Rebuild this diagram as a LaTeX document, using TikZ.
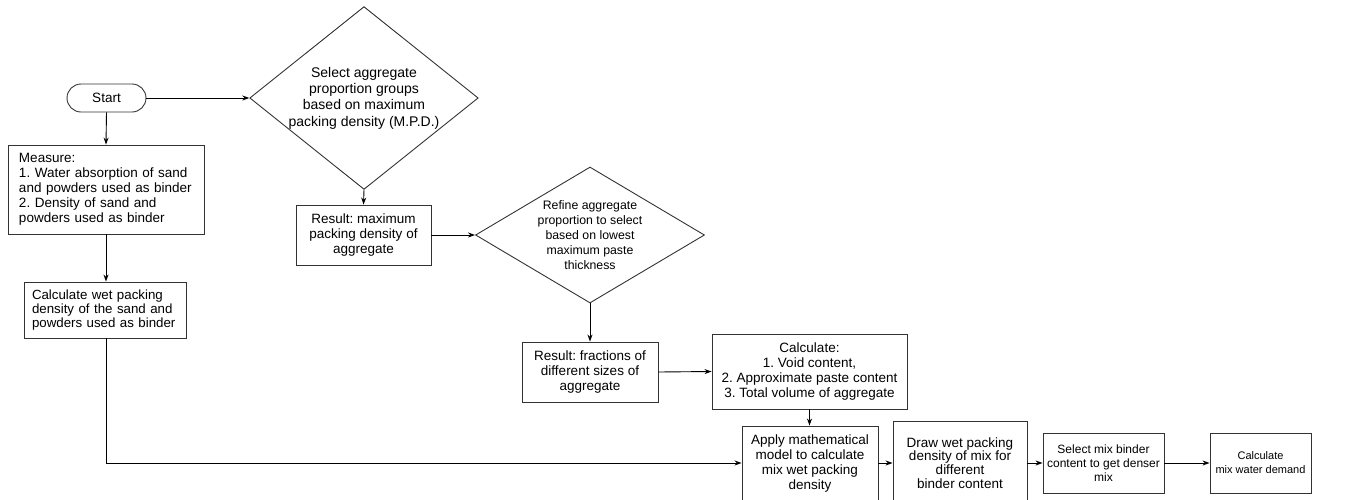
\documentclass[tikz,border=0pt]{standalone}
\usepackage{fontspec}
\setmainfont{Liberation Sans}
\usetikzlibrary{shapes.geometric,arrows.meta}
\frenchspacing
\begin{document}
\begin{tikzpicture}[x=1pt,y=-1pt,
    box/.style={rectangle,draw=black!80,line width=0.9pt,inner sep=0pt,align=center,
      font=\fontsize{13.5}{15}\selectfont},
    decision/.style={diamond,draw=black!80,line width=0.9pt,inner sep=0pt,align=center,
      font=\fontsize{13.5}{15}\selectfont},
    flow/.style={line width=0.9pt,-{Stealth[length=7pt,width=5pt]}}]
   \useasboundingbox (0,0) rectangle (1352,499);
   \clip (0,0) rectangle (1352,499);
   \node[box,rounded corners=14pt,minimum width=79,minimum height=28] (start) at (106.5,98) {Start};
   \node[decision,aspect=1.25,minimum width=228,minimum height=182,font=\fontsize{14}{16.4}\selectfont] (select) at (364,98)
     {Select aggregate\\proportion groups\\based on maximum\\packing density (M.P.D.)};
   \node[box,minimum width=196,minimum height=89,text width=174,align=left] (measure) at (106,189.5)
     {Measure:\\1. Water absorption of sand\\and powders used as binder\\2. Density of sand and\\powders used as binder};
   \node[box,minimum width=162,minimum height=56,text width=146,align=left,font=\fontsize{13.3}{14.3}\selectfont] (wetpd) at (105,310)
     {Calculate wet packing\\density of the sand and\\powders used as binder};
   \node[box,minimum width=135,minimum height=60] (mpd) at (363.5,235)
     {Result: maximum\\packing density of\\aggregate};
   \node[decision,aspect=1.68,minimum width=229,minimum height=136,font=\fontsize{12.3}{15}\selectfont] (refine) at (590,235)
     {Refine aggregate\\proportion to select\\based on lowest\\maximum paste\\thickness};
   \node[box,minimum width=136,minimum height=60] (frac) at (590,372)
     {Result: fractions of\\different sizes of\\aggregate};
   \node[box,minimum width=195,minimum height=75] (calc) at (809.5,371.5)
     {Calculate:\\1. Void content,\\2. Approximate paste content\\3. Total volume of aggregate};
   \node[box,minimum width=136,minimum height=74] (model) at (810,463)
     {Apply mathematical\\model to calculate\\mix wet packing\\density};
   \node[box,minimum width=134,minimum height=84,font=\fontsize{13.5}{13.7}\selectfont] (drawwet) at (960,463)
     {Draw wet packing\\density of mix for\\different\\binder content};
   \node[box,minimum width=121,minimum height=60,font=\fontsize{12}{14}\selectfont] (binder) at (1103.5,463)
     {Select mix binder\\content to get denser\\mix};
   \node[box,minimum width=101,minimum height=60,font=\fontsize{11}{14}\selectfont] (water) at (1260.5,463)
     {Calculate\\mix water demand};
   % connectors
   \draw[flow] (start.east) -- (select.west);
   \draw[flow] (start.south) -- (measure.north);
   \draw[flow] (measure.south) -- (measure.south |- wetpd.north);
   \draw[flow] (wetpd.south -| measure.south) |- (model.west);
   \draw[flow] (select.south) -- (mpd.north);
   \draw[flow] (mpd.east) -- (refine.west);
   \draw[flow] (refine.south) -- (frac.north);
   \draw[flow] (frac.east) -- (calc.west);
   \draw[flow] (calc.south) -- (calc.south |- model.north);
   \draw[flow] (model.east) -- (drawwet.west);
   \draw[flow] (drawwet.east) -- (binder.west);
   \draw[flow] (binder.east) -- (water.west);
\end{tikzpicture}
\end{document}
